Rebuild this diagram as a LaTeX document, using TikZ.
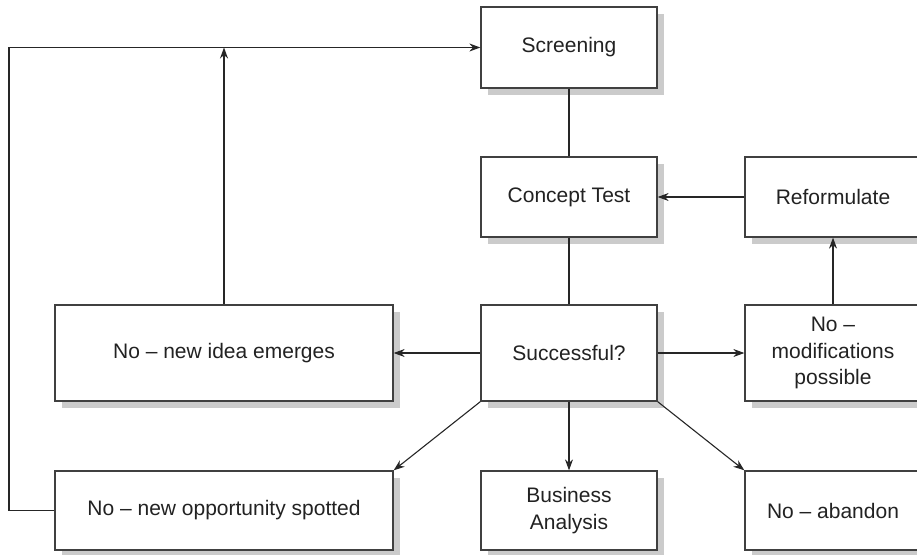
\documentclass[tikz,border=0pt]{standalone}
\usepackage{fontspec}
\setmainfont{Liberation Sans}
\usetikzlibrary{shadows,arrows.meta}
\definecolor{boxline}{HTML}{404040}
\definecolor{shadowgrey}{HTML}{CBCBCB}
\definecolor{txt}{HTML}{222222}
\begin{document}
\begin{tikzpicture}[x=1pt,y=-1pt,
  flowbox/.style={draw=boxline, line width=1.3pt, fill=white, minimum width=176pt,
    inner sep=0pt, align=center, text=txt, font=\fontsize{21}{26.5}\selectfont,
    drop shadow={shadow xshift=7pt, shadow yshift=-7pt, fill=shadowgrey, opacity=1}},
  link/.style={draw=black!85, line width=1.1pt},
  arr/.style={link, -{Stealth[length=11pt,width=8pt]}}]
\useasboundingbox (0,0) rectangle (917,554);
\begin{scope}
\clip (0,0) rectangle (917,554);
\node[flowbox, minimum height=81pt] (scr) at (569,47.5) {Screening};
\node[flowbox, minimum height=80pt] (ct) at (569,197) {Concept Test};
\node[flowbox, minimum height=80pt] (ref) at (833,197) {Reformulate};
\node[flowbox, minimum height=96pt] (suc) at (569,353) {Successful?};
\node[flowbox, minimum height=96pt, minimum width=338pt] (idea) at (224,353) {No -- new idea emerges};
\node[flowbox, minimum height=96pt] (mod) at (833,353) {No --\\modifications\\possible};
\node[flowbox, minimum height=79pt, minimum width=338pt] (opp) at (224,510.5) {No -- new opportunity spotted};
\node[flowbox, minimum height=79pt] (bus) at (569,510.5) {Business\\Analysis};
\node[flowbox, minimum height=79pt] (ab) at (833,510.5) {No -- abandon};
\coordinate (lb) at (9,510.5);
\coordinate (lt) at (9,47.5);
\draw[link] (scr) -- (ct);
\draw[link] (ct) -- (suc);
\draw[arr] (ref) -- (ct);
\draw[arr] (mod) -- (ref);
\draw[arr] (suc) -- (idea);
\draw[arr] (suc) -- (mod);
\draw[arr] (suc) -- (bus);
\draw[arr] (suc.south west) -- (opp.north east);
\draw[arr] (suc.south east) -- (ab.north west);
\draw[arr] (opp.west) -- (lb) -- (lt) -- (scr.west);
\draw[arr] (idea.north) -- (idea.north |- lt);
\end{scope}
\end{tikzpicture}
\end{document}
